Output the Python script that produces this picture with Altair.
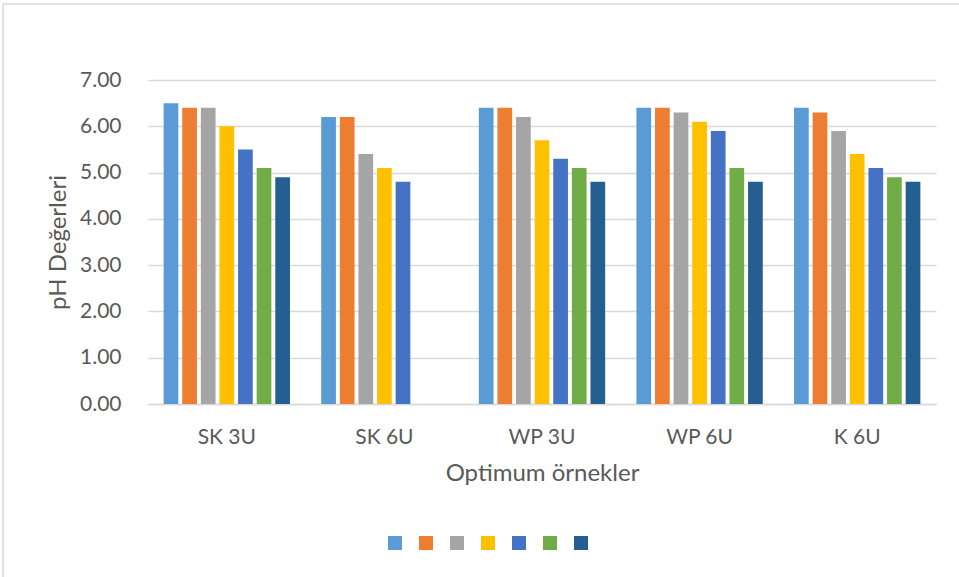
import altair as alt
import pandas as pd

# Sample groups on the x axis
categories = ["SK 3U", "SK 6U", "WP 3U", "WP 6U", "K 6U"]

# Seven measurement series (SK 6U has no values for the last two)
series_names = ["S1", "S2", "S3", "S4", "S5", "S6", "S7"]
s1 = [6.5, 6.2, 6.4, 6.4, 6.4]
s2 = [6.4, 6.2, 6.4, 6.4, 6.3]
s3 = [6.4, 5.4, 6.2, 6.3, 5.9]
s4 = [6.0, 5.1, 5.7, 6.1, 5.4]
s5 = [5.5, 4.8, 5.3, 5.9, 5.1]
s6 = [5.1, None, 5.1, 5.1, 4.9]
s7 = [4.9, None, 4.8, 4.8, 4.8]

colors = ["#5B9BD5", "#ED7D31", "#A5A5A5", "#FFC000", "#4472C4", "#70AD47", "#255E91"]

rows = []
for name, vals in zip(series_names, [s1, s2, s3, s4, s5, s6, s7]):
    for cat, v in zip(categories, vals):
        if v is not None:
            rows.append({"group": cat, "series": name, "ph": v})
df = pd.DataFrame(rows)

FONT = "Lato"
GREY_TEXT = "#595959"
GRID = "#D9D9D9"

bars = alt.Chart(df).mark_bar().encode(
    x=alt.X(
        "group:N",
        sort=categories,
        scale=alt.Scale(paddingInner=0, paddingOuter=0),
        axis=alt.Axis(
            title="Optimum örnekler",
            labelAngle=0,
            ticks=False,
            domainColor=GRID,
            domainWidth=1.5,
            labelPadding=22,
            titlePadding=14,
        ),
    ),
    xOffset=alt.XOffset(
        "series:N",
        sort=series_names,
        scale=alt.Scale(paddingInner=0.21, paddingOuter=0.84),
    ),
    y=alt.Y(
        "ph:Q",
        scale=alt.Scale(domain=[0, 7], nice=False),
        axis=alt.Axis(
            title="pH Değerleri",
            values=[0, 1, 2, 3, 4, 5, 6, 7],
            format=".2f",
            domain=False,
            ticks=False,
            gridColor=GRID,
            gridWidth=1.5,
            labelPadding=27,
            titlePadding=9,
        ),
    ),
    color=alt.Color(
        "series:N",
        sort=series_names,
        scale=alt.Scale(domain=series_names, range=colors),
        legend=alt.Legend(
            title=None,
            orient="none",
            direction="horizontal",
            legendX=240,
            legendY=456,
            symbolType="square",
            symbolSize=196,
            symbolStrokeWidth=0,
            symbolOpacity=1,
            labelExpr="''",
            labelOffset=4,
            columnPadding=13,
            padding=0,
        ),
    ),
)

# Thin frame around the whole chart area
frame = alt.Chart(pd.DataFrame({"k": [0]})).mark_rect(
    fillOpacity=0, stroke=GRID, strokeWidth=1.5
).encode(
    x=alt.value(-145),
    x2=alt.value(830),
    y=alt.value(-76),
    y2=alt.value(520),
)

chart = alt.layer(frame, bars).properties(
    width=788,
    height=324,
    autosize=alt.AutoSizeParams(type="none"),
    padding={"left": 148, "top": 80, "right": 23, "bottom": 173},
).configure(
    background="white"
).configure_view(
    stroke=None
).configure_axis(
    labelFont=FONT,
    titleFont=FONT,
    labelFontSize=21,
    titleFontSize=24,
    labelColor=GREY_TEXT,
    titleColor=GREY_TEXT,
    titleFontWeight="normal",
)

chart.save("out.html", embed_options={"renderer": "svg", "actions": False})
